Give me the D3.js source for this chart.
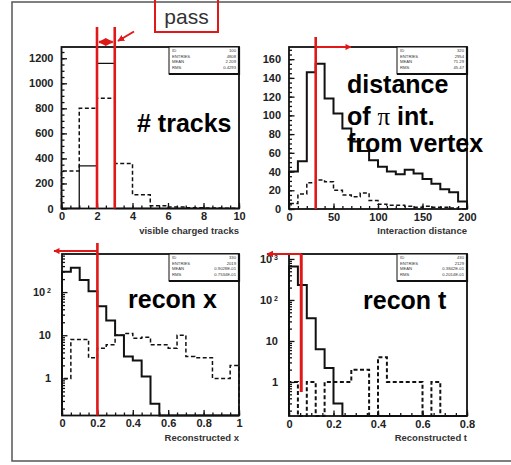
<!DOCTYPE html>
<html>
<head>
<meta charset="utf-8">
<script src="https://cdn.jsdelivr.net/npm/d3@7"></script>
<style>
body { margin: 0; background: #fff; }
text { font-family: "Liberation Sans", Arial, sans-serif; }
</style>
</head>
<body>
<script>
//  Page size
var w = 511;
var h = 465;
var red = "#e01818";

//  Histogram contents (one value per bin)
//  Panel 1: visible charged tracks, 10 bins from 0 to 10
var tracksSolid  = [0, 340, 1160, 0, 0, 0, 0, 0, 0, 0];
var tracksDashed = [300, 800, 880, 360, 110, 22, 12, 5, 3, 2];
//  Panel 2: interaction distance, 20 bins from 0 to 200
var distSolid  = [40, 51, 146, 155, 118, 102, 86, 72, 62, 52, 45, 40, 37, 42, 38, 32, 27, 21, 18, 8];
var distDashed = [6, 16, 28, 31, 29, 20, 15, 13, 17, 9, 5, 4, 4, 3, 2, 3, 2, 2, 1, 0];
//  Panel 3: reconstructed x, 20 bins from 0 to 1 (log y)
var reconXSolid  = [297, 366, 190, 105, 47, 22, 10, 3.2, 2.6, 1.1, 0.26, 0, 0, 0, 0, 0, 0, 0, 0, 0];
var reconXDashed = [1, 8, 8, 3, 5, 6, 10, 11, 8.5, 9, 6, 6, 5, 10, 3.2, 3, 3, 1, 1, 2];
//  Panel 4: reconstructed t, 20 bins from 0 to 0.8 (log y)
var reconTSolid  = [650, 230, 36, 6.3, 2.2, 0.3, 0, 0, 0, 0, 0, 0, 0, 0, 0, 0, 0, 0, 0, 0];
var reconTDashed = [1, 0, 1, 0, 1, 1, 1, 2, 2, 0, 4, 1, 1, 1, 1, 0, 1, 0, 0, 0];

//  Cut values drawn in red
var tracksCut = [2, 3];
var distCut = 30;
var reconXCut = 0.2;
var reconTCut = 0.055;

//  Tick values
var tracksTicks = [0, 2, 4, 6, 8, 10];
var tracksYTicks = [0, 200, 400, 600, 800, 1000, 1200];
var distTicks = [0, 50, 100, 150, 200];
var distYTicks = [0, 20, 40, 60, 80, 100, 120, 140, 160];
var reconXTicks = [0, 0.2, 0.4, 0.6, 0.8, 1];
var reconTTicks = [0, 0.2, 0.4, 0.6, 0.8];
var logYTicks = [1, 10, 100, 1000];

//  Stat boxes
var stats1 = [["ID", "100"], ["ENTRIES", "4808"], ["MEAN", "2.209"], ["RMS", "0.4293"]];
var stats2 = [["ID", "320"], ["ENTRIES", "2954"], ["MEAN", "71.29"], ["RMS", "45.47"]];
var stats3 = [["ID", "330"], ["ENTRIES", "2019"], ["MEAN", "0.9028E-01"], ["RMS", "0.7534E-01"]];
var stats4 = [["ID", "430"], ["ENTRIES", "2129"], ["MEAN", "0.3842E-01"], ["RMS", "0.2014E-01"]];

var svg = d3.select("body")
    .append("svg")
    .attr("width", w)
    .attr("height", h);

//  arrow heads
var defs = svg.append("defs");
defs.append("marker")
    .attr("id", "head")
    .attr("viewBox", "0 0 10 10")
    .attr("refX", 9).attr("refY", 5)
    .attr("markerWidth", 3.4).attr("markerHeight", 3.4)
    .attr("markerUnits", "strokeWidth")
    .attr("orient", "auto-start-reverse")
    .append("path")
    .attr("d", "M0,0 L10,5 L0,10 z")
    .attr("fill", red);

//  outer slide frame
svg.append("path")
    .attr("d", "M" + w + ",2 H12 V461 H" + w)
    .attr("fill", "none")
    .attr("stroke", "#555")
    .attr("stroke-width", 1.5);

//  Build the step outline of a histogram
function stepPoints(values, lo, binW, floor) {
    var pts = [[lo, floor]];
    values.forEach(function(v, i) {
        var y = v > floor ? v : floor;
        pts.push([lo + i * binW, y]);
        pts.push([lo + (i + 1) * binW, y]);
    });
    pts.push([lo + values.length * binW, floor]);
    return pts;
}

function drawPanel(p) {
    var g = svg.append("g");
    var xScale = d3.scaleLinear().domain(p.xDomain).range([p.x0, p.x1]);
    var yScale = (p.log ? d3.scaleLog() : d3.scaleLinear())
        .domain(p.yDomain).range([p.y1, p.y0]).clamp(true);

    //  histograms
    var line = d3.line()
        .x(function(d) { return xScale(d[0]); })
        .y(function(d) { return yScale(d[1]); });
    var floor = p.yDomain[0];
    g.append("path")
        .attr("d", line(stepPoints(p.dashed, p.xDomain[0], p.binW, floor)))
        .attr("fill", "none")
        .attr("stroke", "#111")
        .attr("stroke-width", p.dashW)
        .attr("stroke-dasharray", "4,2.5");
    g.append("path")
        .attr("d", line(stepPoints(p.solid, p.xDomain[0], p.binW, floor)))
        .attr("fill", "none")
        .attr("stroke", "#111")
        .attr("stroke-width", p.solidW);

    //  x axis: major with labels, minor without
    var xa = g.append("g")
        .attr("transform", "translate(0," + p.y1 + ")")
        .call(d3.axisBottom(xScale).tickValues(p.xTicks).tickSize(-5.5)
            .tickSizeOuter(0).tickPadding(4).tickFormat(d3.format("~g")));
    g.append("g")
        .attr("transform", "translate(0," + p.y1 + ")")
        .call(d3.axisBottom(xScale).tickValues(p.xMinor).tickSize(-3)
            .tickSizeOuter(0).tickFormat(""));

    //  y axis
    var yTicks = p.yTicks.filter(function(t) { return t >= p.yDomain[0] && t <= p.yDomain[1] * 1.02; });
    var ya = g.append("g")
        .attr("transform", "translate(" + p.x0 + ",0)")
        .call(d3.axisLeft(yScale).tickValues(yTicks).tickSize(-5.5)
            .tickSizeOuter(0).tickPadding(p.log ? 11 : 8).tickFormat(d3.format("d")));
    g.append("g")
        .attr("transform", "translate(" + p.x0 + ",0)")
        .call(d3.axisLeft(yScale).tickValues(p.yMinor).tickSize(-3)
            .tickSizeOuter(0).tickFormat(""));

    g.selectAll(".domain").remove();
    g.selectAll(".tick line").attr("stroke", "#111").attr("stroke-width", 1.3);
    [xa, ya].forEach(function(a) {
        a.selectAll("text")
            .attr("font-family", "Liberation Sans, Arial, sans-serif")
            .attr("font-size", 11)
            .attr("font-weight", "bold")
            .attr("fill", "#222");
    });

    //  powers of ten as 10 with a raised exponent
    if (p.log) {
        ya.selectAll(".tick text").each(function(d) {
            if (d >= 100) {
                var t = d3.select(this).text("10");
                t.append("tspan")
                    .attr("dy", "-0.45em")
                    .attr("font-size", 7)
                    .text(" " + Math.round(Math.log10(d)));
            }
        });
    }

    //  frame
    g.append("rect")
        .attr("x", p.x0).attr("y", p.y0)
        .attr("width", p.x1 - p.x0).attr("height", p.y1 - p.y0)
        .attr("fill", "none")
        .attr("stroke", "#111")
        .attr("stroke-width", 1.8);

    //  stat box
    var bx = p.x1 - 70, bw = 70, bh = 27;
    var sb = g.append("g");
    sb.append("rect")
        .attr("x", bx).attr("y", p.y0)
        .attr("width", bw).attr("height", bh)
        .attr("fill", "#fff")
        .attr("stroke", "#111")
        .attr("stroke-width", 1);
    sb.append("path")
        .attr("d", "M" + bx + "," + (p.y0 + bh) + " H" + (bx + bw) + " V" + p.y0)
        .attr("fill", "none")
        .attr("stroke", "#111")
        .attr("stroke-width", 2.2);
    sb.selectAll("text.k")
        .data(p.stats)
        .enter()
        .append("text")
        .attr("x", bx + 3)
        .attr("y", function(d, i) { return p.y0 + 5.3 + i * 5.4; })
        .attr("font-size", 4.2)
        .attr("fill", "#333")
        .text(function(d) { return d[0]; });
    sb.selectAll("text.v")
        .data(p.stats)
        .enter()
        .append("text")
        .attr("x", bx + bw - 3)
        .attr("y", function(d, i) { return p.y0 + 5.3 + i * 5.4; })
        .attr("text-anchor", "end")
        .attr("font-size", 4.2)
        .attr("fill", "#333")
        .text(function(d) { return d[1]; });

    //  axis title
    g.append("text")
        .attr("x", p.x1)
        .attr("y", p.y1 + 25)
        .attr("text-anchor", "end")
        .attr("font-size", 9.5)
        .attr("font-weight", "bold")
        .attr("fill", "#333")
        .text(p.title);

    return { x: xScale, y: yScale, g: g };
}

var p1 = drawPanel({
    x0: 61.5, x1: 239, y0: 47, y1: 208.5,
    xDomain: [0, 10], yDomain: [0, 1290], binW: 1,
    solid: tracksSolid, dashed: tracksDashed, solidW: 1.3, dashW: 1.5,
    xTicks: tracksTicks, xMinor: d3.range(0, 10.01, 0.5),
    yTicks: tracksYTicks, yMinor: d3.range(0, 1290, 50),
    stats: stats1, title: "visible charged tracks"
});
var p2 = drawPanel({
    x0: 289, x1: 467, y0: 47, y1: 209,
    xDomain: [0, 200], yDomain: [0, 173], binW: 10,
    solid: distSolid, dashed: distDashed, solidW: 2, dashW: 1.5,
    xTicks: distTicks, xMinor: d3.range(0, 201, 10),
    yTicks: distYTicks, yMinor: d3.range(0, 173, 5),
    stats: stats2, title: "Interaction distance"
});
var p3 = drawPanel({
    x0: 62, x1: 239, y0: 254, y1: 415.5, log: true,
    xDomain: [0, 1], yDomain: [0.138, 763], binW: 0.05,
    solid: reconXSolid, dashed: reconXDashed, solidW: 2, dashW: 1.5,
    xTicks: reconXTicks, xMinor: d3.range(0, 1.001, 0.05),
    yTicks: logYTicks, yMinor: [0.2, 0.3, 0.4, 0.5, 0.6, 0.7, 0.8, 0.9, 2, 3, 4, 5, 6, 7, 8, 9, 20, 30, 40, 50, 60, 70, 80, 90, 200, 300, 400, 500, 600, 700],
    stats: stats3, title: "Reconstructed x"
});
var p4 = drawPanel({
    x0: 289, x1: 467, y0: 254, y1: 416, log: true,
    xDomain: [0, 0.8], yDomain: [0.148, 1320], binW: 0.04,
    solid: reconTSolid, dashed: reconTDashed, solidW: 2, dashW: 2,
    xTicks: reconTTicks, xMinor: d3.range(0, 0.801, 0.05),
    yTicks: logYTicks, yMinor: [0.2, 0.3, 0.4, 0.5, 0.6, 0.7, 0.8, 0.9, 2, 3, 4, 5, 6, 7, 8, 9, 20, 30, 40, 50, 60, 70, 80, 90, 200, 300, 400, 500, 600, 700, 800, 900],
    stats: stats4, title: "Reconstructed t"
});

//  Big labels
function bigLabel(x, y, txt) {
    return svg.append("text")
        .attr("x", x).attr("y", y)
        .attr("font-size", 25)
        .attr("font-weight", "bold")
        .attr("fill", "#000")
        .text(txt);
}
bigLabel(137, 132, "# tracks");
bigLabel(347, 93, "distance");
var pi = bigLabel(347, 125, "of ");
pi.append("tspan").attr("font-family", "Liberation Serif, serif").attr("font-weight", "normal").text("\u03c0");
pi.append("tspan").text(" int.");
bigLabel(347, 152, "from vertex");
bigLabel(128, 308, "recon x");
bigLabel(363, 309, "recon t");

//  Red cut markings
function redLine(x1, y1, x2, y2, sw, arrow) {
    var l = svg.append("line")
        .attr("x1", x1).attr("y1", y1)
        .attr("x2", x2).attr("y2", y2)
        .attr("stroke", red)
        .attr("stroke-width", sw);
    if (arrow === "end" || arrow === "both") l.attr("marker-end", "url(#head)");
    if (arrow === "both") l.attr("marker-start", "url(#head)");
    return l;
}

//  panel 1: window between 2 and 3 tracks
tracksCut.forEach(function(c) {
    redLine(p1.x(c), 27, p1.x(c), 208.5, 2.6);
});
redLine(p1.x(tracksCut[0]) + 2, 42, p1.x(tracksCut[1]) - 2, 42, 2.4, "both");
redLine(134, 31.5, 118, 41, 2, "end");
svg.append("rect")
    .attr("x", 155).attr("y", -3)
    .attr("width", 63).attr("height", 35)
    .attr("fill", "none")
    .attr("stroke", red)
    .attr("stroke-width", 2);
svg.append("text")
    .attr("x", 186.5).attr("y", 24)
    .attr("text-anchor", "middle")
    .attr("font-size", 21)
    .attr("fill", "#333")
    .text("pass");

//  panel 2: distance above 30
redLine(p2.x(distCut), 37, p2.x(distCut), 209, 2.6);
redLine(p2.x(distCut), 47, 351, 47, 1.8, "end");

//  panel 3: x below 0.2
redLine(p3.x(reconXCut), 243, p3.x(reconXCut), 415.5, 2.6);
redLine(p3.x(reconXCut), 251, 54, 251, 1.8, "end");

//  panel 4: t below cut
redLine(p4.x(reconTCut), 254, p4.x(reconTCut), 392, 3);
redLine(p4.x(reconTCut), 254, 267, 254, 2, "end");
</script>
</body>
</html>
